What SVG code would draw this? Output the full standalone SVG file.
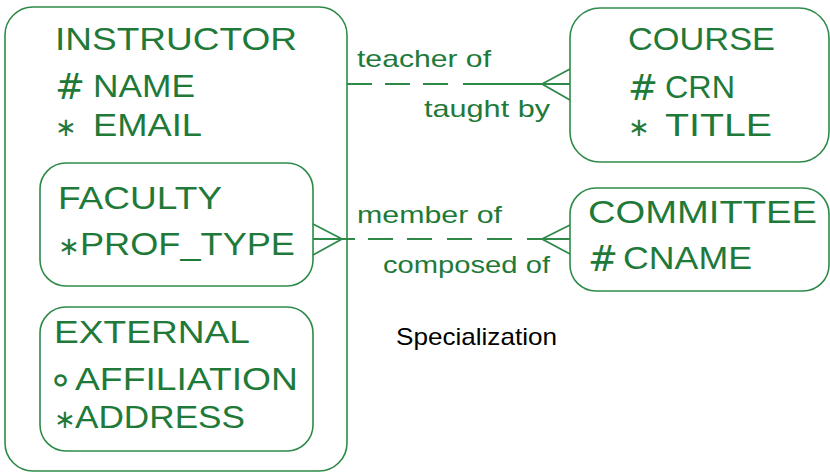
<svg xmlns="http://www.w3.org/2000/svg" width="830" height="473" viewBox="0 0 830 473">
<style>
.box{fill:#fff;stroke:#2f8a4a;stroke-width:1.6}
.ln{fill:none;stroke:#2f8a4a;stroke-width:1.8}
.t{font-family:"Liberation Sans",Arial,sans-serif;font-size:31px;fill:#1f7a3a}
.m{font-family:"DejaVu Sans",sans-serif;font-size:26px;fill:#1f7a3a}
.h{font-family:"DejaVu Sans",sans-serif;font-size:35px;fill:#1f7a3a}
.r{font-family:"DejaVu Sans",sans-serif;font-size:40px;fill:#1f7a3a}
.lb{font-family:"Liberation Sans",Arial,sans-serif;font-size:24px;fill:#1f7a3a}
.cap{font-family:"Liberation Sans",Arial,sans-serif;font-size:24px;fill:#000}
</style>
<rect width="830" height="473" fill="#fff"/>
<g id="instructor">
<rect class="box" x="5" y="7" width="342" height="464" rx="28"/>
<text class="t" x="55" y="50" textLength="242" lengthAdjust="spacingAndGlyphs">INSTRUCTOR</text>
<text class="t" x="55" y="97"><tspan class="h" y="99" textLength="30" lengthAdjust="spacingAndGlyphs">#</tspan><tspan x="93" y="97" textLength="102" lengthAdjust="spacingAndGlyphs">NAME</tspan></text>
<text class="t" x="55" y="136"><tspan class="m">∗</tspan><tspan x="93" textLength="109" lengthAdjust="spacingAndGlyphs">EMAIL</tspan></text>
</g>
<g id="faculty">
<rect class="box" x="40" y="163" width="273" height="123" rx="26"/>
<text class="t" x="58" y="209" textLength="164" lengthAdjust="spacingAndGlyphs">FACULTY</text>
<text class="t" x="58" y="255"><tspan class="m">∗</tspan><tspan x="80" textLength="215" lengthAdjust="spacingAndGlyphs">PROF_TYPE</tspan></text>
</g>
<g id="external">
<rect class="box" x="40" y="307" width="273" height="144" rx="26"/>
<text class="t" x="54" y="343" textLength="196" lengthAdjust="spacingAndGlyphs">EXTERNAL</text>
<text class="t" x="48" y="390"><tspan class="r" y="393">∘</tspan><tspan x="75" y="390" textLength="223" lengthAdjust="spacingAndGlyphs">AFFILIATION</tspan></text>
<text class="t" x="54" y="428"><tspan class="m">∗</tspan><tspan x="75" textLength="170" lengthAdjust="spacingAndGlyphs">ADDRESS</tspan></text>
</g>
<g id="course">
<rect class="box" x="570" y="8" width="259" height="154" rx="30"/>
<text class="t" x="628" y="50" textLength="147" lengthAdjust="spacingAndGlyphs">COURSE</text>
<text class="t" x="628" y="98"><tspan class="h" y="100" textLength="30" lengthAdjust="spacingAndGlyphs">#</tspan><tspan x="665" y="98" textLength="70" lengthAdjust="spacingAndGlyphs">CRN</tspan></text>
<text class="t" x="628" y="136"><tspan class="m">∗</tspan><tspan x="665" textLength="107" lengthAdjust="spacingAndGlyphs">TITLE</tspan></text>
</g>
<g id="committee">
<rect class="box" x="570" y="188" width="259" height="103" rx="26"/>
<text class="t" x="588" y="223" textLength="229" lengthAdjust="spacingAndGlyphs">COMMITTEE</text>
<text class="t" x="588" y="269"><tspan class="h" y="271" textLength="30" lengthAdjust="spacingAndGlyphs">#</tspan><tspan x="623" y="269" textLength="129" lengthAdjust="spacingAndGlyphs">CNAME</tspan></text>
</g>
<g id="connectors">
<path class="ln" d="M347 84 H372 M385 84 H410 M423 84 H448 M463 84 H570"/>
<path class="ln" d="M570 69 L542 84 L570 100"/>
<path class="ln" d="M313 239 H355 M368 239 H393 M407 239 H432 M447 239 H472 M487 239 H512 M527 239 H570"/>
<path class="ln" d="M313 224 L342 239 L313 255"/>
<path class="ln" d="M570 225 L542 239 L570 254"/>
<text class="lb" x="357" y="67" textLength="134" lengthAdjust="spacingAndGlyphs">teacher of</text>
<text class="lb" x="424" y="117" textLength="126" lengthAdjust="spacingAndGlyphs">taught by</text>
<text class="lb" x="357" y="223" textLength="145" lengthAdjust="spacingAndGlyphs">member of</text>
<text class="lb" x="383" y="273" textLength="167" lengthAdjust="spacingAndGlyphs">composed of</text>
</g>
<text class="cap" x="396" y="345" textLength="161" lengthAdjust="spacingAndGlyphs">Specialization</text>
</svg>
